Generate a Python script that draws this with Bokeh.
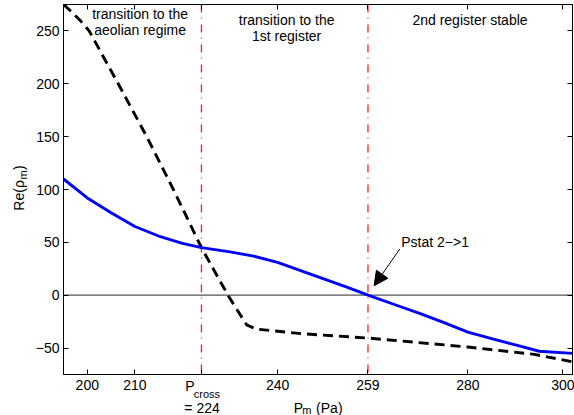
from bokeh.plotting import figure
from bokeh.models import Span, Arrow, NormalHead, LinearAxis, FixedTicker, CustomLabelingPolicy
from bokeh.core.properties import value
from bokeh.embed import file_html
from bokeh.resources import INLINE

# ---- data ----
x_blue = [195, 200, 205, 210, 215, 220, 224, 230, 235, 240, 245, 250, 255, 259,
          265, 270, 275, 280, 285, 290, 295, 302]
y_blue = [110, 92, 78, 65, 56, 49, 45, 41, 37, 31, 23, 15, 7, 0,
          -9.5, -17.5, -26, -35, -41, -47, -53, -55]

x_black = [195, 196, 198.5, 200.4, 206.5, 212.5, 218.1, 224, 229.7, 233.5, 235.5,
           245, 259, 280, 294, 302]
y_black = [275, 271, 260, 250, 200, 150, 100, 45, -1, -28, -32,
           -36.4, -40.5, -49, -56, -63]

x_ticks = [200, 210, 224, 240, 259, 280, 300]
y_ticks = [-50, 0, 50, 100, 150, 200, 250]
p_cross = 224
p_stat = 259

FONT = "Liberation Sans"

p = figure(width=574, height=415, x_range=(195, 302), y_range=(-75, 275),
           output_backend="svg", toolbar_location=None,
           min_border_left=63, min_border_right=2, min_border_top=4,
           min_border_bottom=41)
p.grid.visible = False
p.outline_line_color = "black"
p.outline_line_width = 1
p.background_fill_color = "white"
p.border_fill_color = "white"

for ax in (p.xaxis[0], p.yaxis[0]):
    ax.major_tick_in = 5
    ax.major_tick_out = 0
    ax.minor_tick_line_color = None
    ax.major_label_text_font = FONT
    ax.major_label_text_font_size = "14px"
    ax.major_label_text_color = "black"
    ax.axis_line_color = "black"
    ax.major_tick_line_color = "black"

p.xaxis[0].ticker = FixedTicker(ticks=x_ticks)
p.xaxis[0].major_label_overrides = {p_cross: ""}
p.xaxis[0].major_label_standoff = 5
p.yaxis[0].ticker = FixedTicker(ticks=y_ticks)
p.yaxis[0].major_label_overrides = {-50: "\u221250"}
p.yaxis[0].major_label_standoff = 4

top = LinearAxis(ticker=FixedTicker(ticks=x_ticks), major_label_text_font_size="0px",
                 major_tick_in=5, major_tick_out=0, minor_tick_line_color=None,
                 major_label_standoff=0,
                 major_label_policy=CustomLabelingPolicy(code="return new Set()"))
right = LinearAxis(ticker=FixedTicker(ticks=y_ticks), major_label_text_font_size="0px",
                   major_tick_in=5, major_tick_out=0, minor_tick_line_color=None,
                   major_label_standoff=0,
                   major_label_policy=CustomLabelingPolicy(code="return new Set()"))
p.add_layout(top, "above")
p.add_layout(right, "right")

# reference lines
p.add_layout(Span(location=0, dimension="width", line_color="#555555",
                  line_width=1.3, level="underlay"))
p.add_layout(Span(location=p_cross, dimension="height", line_color="#e82020",
                  line_width=1.3, line_dash="8 5 1 6", level="underlay"))
p.add_layout(Span(location=p_stat, dimension="height", line_color="#ff6060",
                  line_width=1.8, line_dash="8 5 1 6", level="underlay"))

# curves
p.line(x_black, y_black, line_color="black", line_width=2.9, line_dash="10 6")
p.line(x_blue, y_blue, line_color="#0000ff", line_width=2.9)

def lab(x, y, text, size="14px", align="center", baseline="middle", angle=0):
    p.text(x=[x], y=[y], text=[text], text_font=value(FONT),
           text_font_size=value(size), text_align=align, text_baseline=baseline,
           angle=angle, text_color="black", level="overlay")

# region texts
lab(211.1, 266.2, "transition to the")
lab(211.1, 251.0, "aeolian regime")
lab(241.9, 260.5, "transition to the")
lab(241.9, 245.6, "1st register")
lab(280.45, 260.5, "2nd register stable")

# annotation arrow
lab(266.0, 50.0, "Pstat 2\u2212>1", align="left")
p.add_layout(Arrow(end=NormalHead(size=14, fill_color="black", line_color="black"),
                   x_start=265.7, y_start=43.7, x_end=260.3, y_end=9.0,
                   line_width=1, line_color="black"))

# custom x tick label at P_cross
lab(220.6, -85.5, "P", baseline="alphabetic", align="left")
lab(222.4, -93.2, "cross", size="11px", baseline="alphabetic", align="left")
lab(220.4, -106.6, "= 224", baseline="alphabetic", align="left")

# x axis label: P_m (Pa)
lab(243.4, -106.6, "P", baseline="alphabetic", align="left")
lab(245.2, -108.4, "m", size="11px", baseline="alphabetic", align="left")
lab(248.1, -106.6, "(Pa)", baseline="alphabetic", align="left")

# y axis label: Re(rho_m)
lab(185.6, 80.0, "Re(\u03c1", baseline="alphabetic", align="left", angle=1.5707963)
lab(186.4, 109.4, "m", size="11px", baseline="alphabetic", align="left", angle=1.5707963)
lab(185.6, 118.5, ")", baseline="alphabetic", align="left", angle=1.5707963)

open("out.html", "w").write(file_html(p, INLINE))
